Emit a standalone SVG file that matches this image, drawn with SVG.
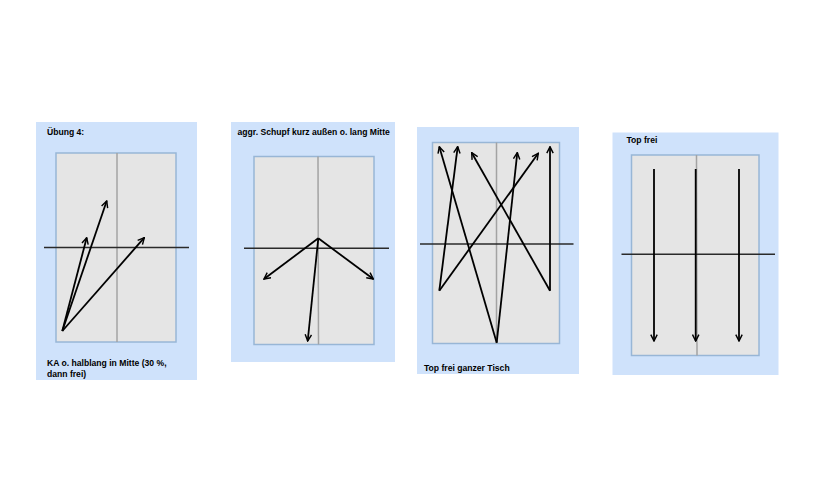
<svg xmlns="http://www.w3.org/2000/svg" width="820" height="500" viewBox="0 0 820 500">
<defs>
<marker id="ah" viewBox="0 0 10 10" refX="9" refY="5" markerWidth="8" markerHeight="8" markerUnits="userSpaceOnUse" orient="auto">
<path d="M1,1 L9,5 L1,9" fill="none" stroke="#000" stroke-width="1.8"/>
</marker>
</defs>
<style>
.bg{fill:#cfe2fb}
.tbl{fill:#e5e5e5;stroke:#98b6d6;stroke-width:1.5}
.mid{stroke:#a3a3a3;stroke-width:1.5}
.net{stroke:#2a2a2a;stroke-width:1.5}
.arr{stroke:#000;stroke-width:1.8;fill:none;marker-end:url(#ah)}
.lbl{font-family:"Liberation Sans",Arial,sans-serif;font-weight:bold;font-size:8.6px;fill:#000}
</style>
<rect width="820" height="500" fill="#fff"/>
<g id="panel1">
<rect class="bg" x="36" y="122" width="161" height="258"/>
<rect class="tbl" x="56" y="153" width="120" height="189"/>
<line class="mid" x1="117" y1="153" x2="117" y2="342"/>
<line class="net" x1="44" y1="247.5" x2="189" y2="247.5"/>
<text class="lbl" x="47" y="134.5">Übung 4:</text>
<text class="lbl" x="47" y="366">KA o. halblang in Mitte (30 %,</text>
<text class="lbl" x="47" y="377">dann frei)</text>
</g>
<g id="panel2">
<rect class="bg" x="231" y="122" width="164" height="240"/>
<rect class="tbl" x="254" y="156.5" width="120" height="188"/>
<line class="mid" x1="318" y1="156.5" x2="318.5" y2="344.5"/>
<line class="net" x1="244" y1="248.3" x2="389" y2="248.3"/>
<text class="lbl" x="237.5" y="134.5">aggr. Schupf kurz außen o. lang Mitte</text>
</g>
<g id="panel3">
<rect class="bg" x="417" y="127" width="162" height="247"/>
<rect class="tbl" x="432.5" y="142.5" width="127" height="201"/>
<line class="mid" x1="496.5" y1="142.5" x2="496.5" y2="343.5"/>
<line class="net" x1="420" y1="244" x2="573.5" y2="244"/>
<text class="lbl" x="424" y="371">Top frei ganzer Tisch</text>
</g>
<g id="panel4">
<rect class="bg" x="612.5" y="132.5" width="166" height="242.5"/>
<rect class="tbl" x="631.5" y="155" width="127.5" height="200.5"/>
<line class="mid" x1="696.5" y1="155" x2="697" y2="355.5"/>
<line class="net" x1="621.5" y1="254.3" x2="775" y2="254.3"/>
<text class="lbl" x="626.5" y="143">Top frei</text>
</g>
<g id="connectors">
<line class="arr" x1="62.3" y1="331" x2="106.7" y2="201"/>
<line class="arr" x1="62.3" y1="331" x2="86.7" y2="237.7"/>
<line class="arr" x1="62.3" y1="331" x2="144.3" y2="237.7"/>
<line class="arr" x1="318.3" y1="238.3" x2="264" y2="279"/>
<line class="arr" x1="318.3" y1="238.3" x2="373.3" y2="279"/>
<line class="arr" x1="318.3" y1="238.3" x2="307.7" y2="341"/>
<line class="arr" x1="496.7" y1="342.7" x2="439.3" y2="146.7"/>
<line class="arr" x1="439.3" y1="290.7" x2="457.7" y2="146.7"/>
<line class="arr" x1="439.3" y1="290.7" x2="538.3" y2="153.3"/>
<line class="arr" x1="496.7" y1="342.7" x2="517.3" y2="152.7"/>
<line class="arr" x1="550" y1="290.7" x2="471.7" y2="152.7"/>
<line class="arr" x1="550" y1="290.7" x2="550" y2="146.7"/>
<line class="arr" x1="654" y1="169" x2="654" y2="341"/>
<line class="arr" x1="695.7" y1="169" x2="695.7" y2="341"/>
<line class="arr" x1="739" y1="169" x2="739" y2="341"/>
</g>
</svg>
